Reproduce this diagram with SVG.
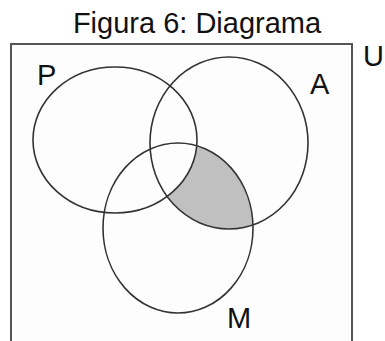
<svg xmlns="http://www.w3.org/2000/svg" width="385" height="341" viewBox="0 0 385 341">
  <style>
    .lbl { font-family: "Liberation Sans", Arial, sans-serif; font-size: 29px; fill: #111; }
    .ring { fill: none; stroke: #333; stroke-width: 1.6; }
  </style>
  <defs>
    <clipPath id="clipA">
      <ellipse cx="229" cy="143" rx="79" ry="86"/>
    </clipPath>
  </defs>
  <rect x="0" y="0" width="385" height="341" fill="#ffffff"/>
  <text class="lbl" x="197" y="33" text-anchor="middle" font-size="28">Figura 6: Diagrama</text>
  <g id="universe">
    <rect x="11" y="44" width="341" height="310" fill="#fdfdfd" stroke="#555" stroke-width="2"/>
    <text class="lbl" x="363" y="66">U</text>
  </g>
  <g id="shaded-region">
    <ellipse cx="178" cy="228" rx="75" ry="85" fill="#c0c0c0" clip-path="url(#clipA)"/>
    <ellipse cx="115" cy="140" rx="82" ry="73" fill="#fdfdfd"/>
  </g>
  <g id="set-P">
    <ellipse class="ring" cx="115" cy="140" rx="82" ry="73"/>
    <text class="lbl" x="37" y="85">P</text>
  </g>
  <g id="set-A">
    <ellipse class="ring" cx="229" cy="143" rx="79" ry="86"/>
    <text class="lbl" x="310" y="94">A</text>
  </g>
  <g id="set-M">
    <ellipse class="ring" cx="178" cy="228" rx="75" ry="85"/>
    <text class="lbl" x="227" y="328">M</text>
  </g>
  <g id="connectors"/>
</svg>
